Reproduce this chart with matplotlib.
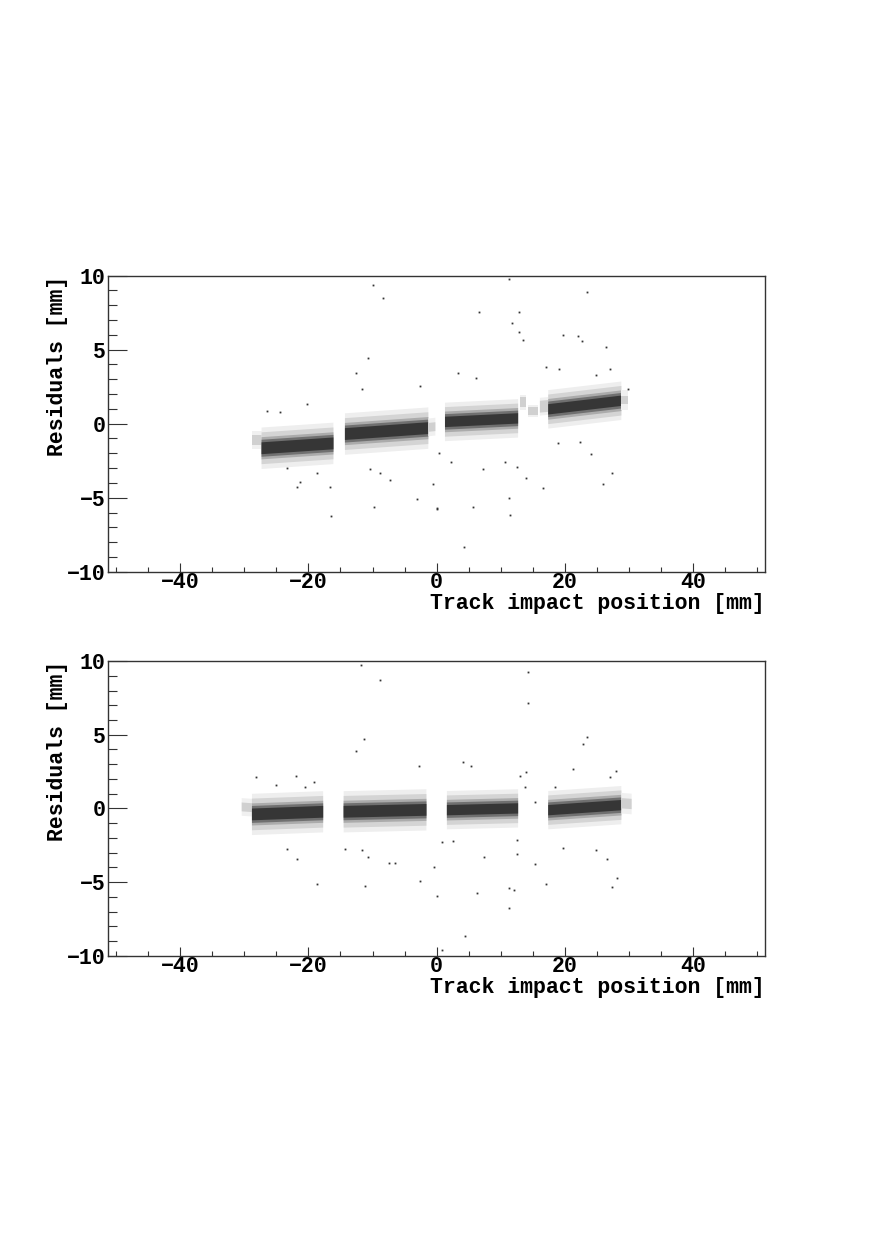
import matplotlib
matplotlib.use("Agg")
import matplotlib.pyplot as plt
from matplotlib.ticker import MultipleLocator

plt.rcParams["font.family"] = ["Liberation Mono", "DejaVu Sans Mono"]
plt.rcParams["font.weight"] = "bold"

# band segments: x start/end, band centre at start/end,
# half widths of the dense core, the medium zone and the sparse halo
top_x0 = [-28.8, -27.3, -14.3, -1.3, 1.3, 13.0, 14.3, 16.1, 17.4, 28.8]
top_x1 = [-27.3, -16.1, -1.3, -0.2, 12.7, 14.0, 15.8, 17.4, 28.8, 29.8]
top_c0 = [-1.10, -1.66, -0.70, -0.25, 0.12, 1.45, 0.85, 1.15, 0.97, 1.60]
top_c1 = [-1.10, -1.33, -0.30, -0.20, 0.36, 1.45, 0.85, 1.20, 1.55, 1.60]
top_core = [0.0, 0.40, 0.40, 0.0, 0.35, 0.0, 0.0, 0.0, 0.35, 0.0]
top_mid = [0.35, 0.75, 0.75, 0.30, 0.70, 0.35, 0.25, 0.40, 0.70, 0.30]
top_halo = [0.60, 1.40, 1.40, 0.60, 1.30, 0.50, 0.40, 0.60, 1.30, 0.70]

bot_x0 = [-30.4, -28.8, -14.5, 1.6, 17.4, 28.8]
bot_x1 = [-28.8, -17.7, -1.6, 12.7, 28.8, 30.4]
bot_c0 = [0.10, -0.41, -0.23, -0.12, -0.12, 0.35]
bot_c1 = [0.05, -0.23, -0.10, 0.00, 0.22, 0.30]
bot_core = [0.0, 0.40, 0.40, 0.35, 0.35, 0.0]
bot_mid = [0.30, 0.75, 0.75, 0.70, 0.70, 0.35]
bot_halo = [0.60, 1.40, 1.40, 1.30, 1.30, 0.70]

# isolated points away from the bands
top_out_x = [-10.0, -8.3, -10.65, -12.6, -11.6, -2.6, -26.5, -24.4, -20.2, -21.8,
             -21.3, -16.6, -16.4, -9.7, -7.3, -3.1, 0.0, -0.5, -10.4, -8.8,
             -23.4, -18.7, 11.26, 23.4, 6.64, 12.87, 11.7, 12.87, 13.4, 19.7,
             22.1, 22.7, 26.4, 17.1, 19.1, 27.1, 6.2, 3.4, 24.9, 29.8,
             0.0, 5.7, 4.3, 11.3, 11.4, 13.9, 16.6, 7.2, 10.7, 12.5,
             25.9, 27.4, 24.1, 18.9, 22.3, 2.2, 0.4]
top_out_y = [9.37, 8.47, 4.42, 3.45, 2.32, 2.55, 0.88, 0.81, 1.33, -4.26,
             -3.92, -4.26, -6.24, -5.65, -3.8, -5.1, -5.77, -4.07, -3.08, -3.35,
             -3.0, -3.35, 9.76, 8.88, 7.57, 7.57, 6.78, 6.22, 5.66, 6.0,
             5.93, 5.59, 5.2, 3.81, 3.67, 3.72, 3.07, 3.45, 3.29, 2.32,
             -5.72, -5.65, -8.35, -5.04, -6.17, -3.69, -4.37, -3.08, -2.57, -2.9,
             -4.1, -3.35, -2.05, -1.28, -1.22, -2.57, -1.96]

bot_out_x = [-11.8, -8.8, -11.4, -12.6, -2.7, -28.1, -21.9, -25.1, -20.6, -19.2,
             -18.6, -11.2, -2.6, 0.0, -0.4, -21.8, -23.4, -14.3, -11.7, -7.5,
             -6.5, -10.65, 0.9, 14.2, 14.2, 23.5, 22.8, 4.1, 5.3, 14.0,
             13.0, 21.3, 28.0, 27.1, 13.75, 18.4, 15.3, 17.0, 6.3, 11.3,
             12.0, 11.3, 4.4, 7.4, 19.7, 24.9, 26.5, 27.4, 28.1, 2.6,
             0.8, 12.5, 12.5, 15.3]
bot_out_y = [9.73, 8.71, 4.70, 3.91, 2.87, 2.10, 2.19, 1.56, 1.47, 1.81,
             -5.16, -5.27, -4.91, -5.95, -3.96, -3.46, -2.78, -2.78, -2.83, -3.73,
             -3.69, -3.28, -9.58, 9.23, 7.17, 4.82, 4.37, 3.17, 2.89, 2.49,
             2.19, 2.65, 2.55, 2.15, 1.47, 1.47, -3.78, -5.14, -5.77, -5.43,
             -5.55, -6.79, -8.67, -3.33, -2.67, -2.83, -3.46, -5.32, -4.71, -2.2,
             -2.27, -3.1, -2.15, 0.45]

x_ticks = [-40, -20, 0, 20, 40]
y_ticks = [-10, -5, 0, 5, 10]


def draw_panel(ax, x0, x1, c0, c1, core, mid, halo, ox, oy):
    for i in range(len(x0)):
        xs = [x0[i], x1[i]]
        # graded shading from the sparse halo in to the dense core
        if core[i] > 0:
            layers = [(halo[i], "#eeeeee"), ((halo[i] + mid[i]) / 2, "#d4d4d4"),
                      (mid[i], "#ababab"), ((mid[i] + core[i]) / 2, "#707070"),
                      (core[i], "#363636")]
        else:
            layers = [(halo[i], "#f0f0f0"), (mid[i], "#d0d0d0")]
        for hw, col in layers:
            ax.fill_between(xs, [c0[i] - hw, c1[i] - hw], [c0[i] + hw, c1[i] + hw],
                            facecolor=col, edgecolor="none", linewidth=0)
    ax.plot(ox, oy, "s", color="#333333", markersize=1.3, markeredgewidth=0)

    ax.set_xlim(-51.2, 51.2)
    ax.set_ylim(-10, 10)
    ax.set_xticks(x_ticks)
    ax.set_yticks(y_ticks)
    ax.xaxis.set_minor_locator(MultipleLocator(5))
    ax.yaxis.set_minor_locator(MultipleLocator(1))
    ax.tick_params(axis="both", which="both", direction="in", top=False, right=False,
                   labelsize=15.5, width=0.8, color="#333333")
    ax.tick_params(axis="y", which="major", length=14, pad=2)
    ax.tick_params(axis="y", which="minor", length=6.5)
    ax.tick_params(axis="x", which="major", length=6.5, pad=0)
    ax.tick_params(axis="x", which="minor", length=3.6)
    for s in ax.spines.values():
        s.set_linewidth(1.0)
        s.set_color("#333333")
    ax.set_xlabel("Track impact position [mm]", fontsize=15.5, fontweight="bold",
                  ha="right", va="top")
    ax.xaxis.set_label_coords(1.0, -0.072)
    ax.set_ylabel("Residuals [mm]", fontsize=15.5, fontweight="bold",
                  ha="right", va="center")
    ax.yaxis.set_label_coords(-0.077, 1.0)


fig = plt.figure(figsize=(8.72, 12.34), dpi=100)
ax1 = fig.add_axes([0.1242, 0.5367, 0.7531, 0.2399])
ax2 = fig.add_axes([0.1242, 0.2255, 0.7531, 0.2388])

draw_panel(ax1, top_x0, top_x1, top_c0, top_c1, top_core, top_mid, top_halo,
           top_out_x, top_out_y)
draw_panel(ax2, bot_x0, bot_x1, bot_c0, bot_c1, bot_core, bot_mid, bot_halo,
           bot_out_x, bot_out_y)

fig.savefig("out.png", dpi=100)
